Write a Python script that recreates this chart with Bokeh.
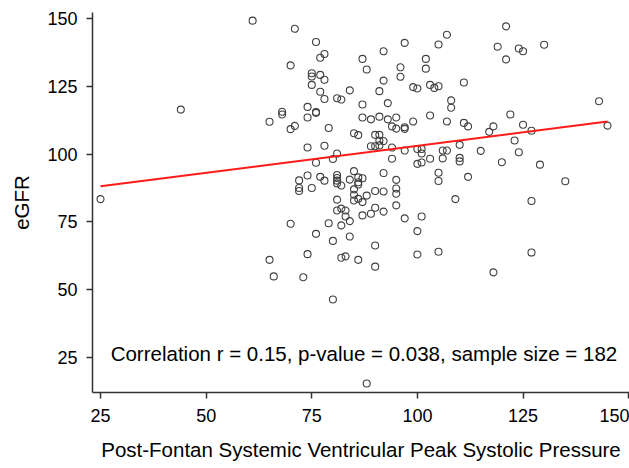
from bokeh.plotting import figure
from bokeh.models import Range1d, Label, FixedTicker
from bokeh.embed import file_html
from bokeh.resources import INLINE

# Systemic ventricular peak systolic pressure (x) and eGFR (y)
pressure = [25, 44, 61, 65, 65, 66, 68, 68, 70, 70, 70, 71, 71, 72, 72, 72, 73,
            74, 74, 74, 74, 74, 75, 75, 75, 75, 76, 76, 76, 76, 76, 77, 77, 77, 77,
            78, 78, 78, 78, 78, 79, 79, 80, 80, 80, 81, 81, 81, 81, 81, 81, 81, 81,
            82, 82, 82, 82, 82, 83, 83, 83, 84, 84, 84, 84, 85, 85, 86, 86, 87, 86,
            86, 85, 85, 85, 86, 87, 86, 87, 87, 87, 87, 88, 88, 89, 89, 89, 90, 90,
            90, 90, 90, 90, 91, 91, 91, 91, 91, 92, 92, 92, 92, 92, 92, 93, 93, 94,
            94, 94, 95, 95, 95, 95, 95, 95, 96, 96, 97, 97, 97, 97, 97, 99, 99, 100,
            100, 100, 100, 100, 101, 101, 101, 101, 102, 102, 103, 103, 103, 104, 105,
            105, 105, 105, 105, 106, 106, 107, 107, 107, 108, 108, 109, 110, 110, 110,
            111, 111, 112, 112, 115, 117, 118, 118, 119, 120, 121, 121, 122, 123, 124,
            124, 125, 125, 127, 127, 127, 129, 130, 135, 143, 145, 88]
egfr = [83.4, 116.4, 149.2, 111.9, 61.0, 54.9, 115.6, 114.6, 132.7, 109.2, 74.3,
        146.2, 110.4, 90.3, 87.5, 86.4, 54.6, 117.4, 113.5, 102.4, 92.1, 63.1, 129.8,
        128.6, 125.5, 87.5, 141.3, 115.5, 115.2, 96.8, 70.6, 135.5, 129.2, 123.0, 91.6,
        136.9, 127.4, 120.3, 103.1, 90.2, 109.6, 74.5, 98.2, 68.0, 46.4, 120.6, 100.2,
        92.3, 91.2, 90.2, 89.2, 83.2, 79.2, 120.1, 88.4, 79.9, 73.7, 61.8, 79.2, 77.0,
        62.3, 123.5, 90.6, 75.3, 69.6, 107.7, 93.7, 107.0, 91.4, 91.1, 89.6, 88.8, 87.0,
        85.0, 82.9, 83.5, 82.3, 61.0, 135.1, 118.3, 113.5, 77.4, 131.2, 84.7, 112.8,
        102.9, 78.0, 107.1, 102.9, 86.4, 80.2, 66.3, 58.5, 123.2, 113.8, 107.1, 104.9,
        103.2, 137.9, 127.1, 104.8, 93.0, 86.2, 78.8, 118.8, 112.8, 110.2, 102.4, 98.3,
        113.5, 109.4, 90.5, 87.3, 85.4, 81.1, 132.0, 128.5, 141.0, 109.9, 109.3, 101.3,
        76.3, 124.7, 112.0, 124.2, 101.9, 96.4, 71.6, 63.0, 101.9, 100.2, 96.9, 77.0,
        135.1, 131.5, 125.5, 114.2, 98.3, 124.4, 140.4, 125.0, 93.1, 90.1, 64.0, 101.3,
        98.4, 144.0, 112.0, 101.3, 119.8, 117.1, 83.4, 103.4, 98.6, 97.3, 126.4, 111.5,
        110.2, 91.6, 101.2, 108.2, 110.2, 56.4, 139.6, 97.0, 147.1, 134.9, 114.6, 105.0,
        138.9, 100.7, 137.9, 110.8, 108.6, 82.7, 63.7, 96.1, 140.3, 90.0, 119.5, 110.5,
        15.4]

# Regression line
fit_x = [25, 145]
fit_y = [88.1, 112.0]

x_ticks = [25, 50, 75, 100, 125, 150]
y_ticks = [25, 50, 75, 100, 125, 150]

x_title = "Post-Fontan Systemic Ventricular Peak Systolic Pressure"
y_title = "eGFR"
note = "Correlation r = 0.15, p-value = 0.038, sample size = 182"

FONT = "Liberation Sans"

p = figure(width=629, height=468, output_backend="svg", toolbar_location=None,
           x_range=Range1d(23.1, 150.2), y_range=Range1d(12.1, 152.2),
           min_border_left=92, min_border_right=0, min_border_top=12,
           min_border_bottom=76)
p.outline_line_color = None
p.grid.visible = False
p.background_fill_color = "white"
p.border_fill_color = "white"

p.scatter(pressure, egfr, marker="circle", size=7, fill_color=None,
          line_color="#404040", line_width=1.1)
p.line(fit_x, fit_y, line_color="#ff1a1a", line_width=2)

p.xaxis.ticker = FixedTicker(ticks=x_ticks)
p.yaxis.ticker = FixedTicker(ticks=y_ticks)
p.xaxis.axis_label = x_title
p.yaxis.axis_label = y_title

for ax in (p.xaxis[0], p.yaxis[0]):
    ax.axis_line_color = "#333333"
    ax.axis_line_width = 1.5
    ax.major_tick_line_color = "#333333"
    ax.major_tick_line_width = 1.5
    ax.major_tick_in = 0
    ax.major_tick_out = 6
    ax.minor_tick_line_color = None
    ax.major_label_text_font = FONT
    ax.major_label_text_font_size = "18px"
    ax.major_label_text_color = "black"
    ax.axis_label_text_font = FONT
    ax.axis_label_text_font_size = "20.5px"
    ax.axis_label_text_font_style = "normal"
    ax.axis_label_text_color = "black"

p.xaxis.major_label_standoff = 10
p.xaxis.axis_label_standoff = 13
p.yaxis.major_label_standoff = 9
p.yaxis.axis_label_standoff = 11

p.add_layout(Label(x=27.4, y=26.3, text=note, text_font=FONT,
                   text_font_size="20.5px", text_align="left",
                   text_baseline="middle", text_color="black"))

open("out.html", "w").write(file_html(p, INLINE))
